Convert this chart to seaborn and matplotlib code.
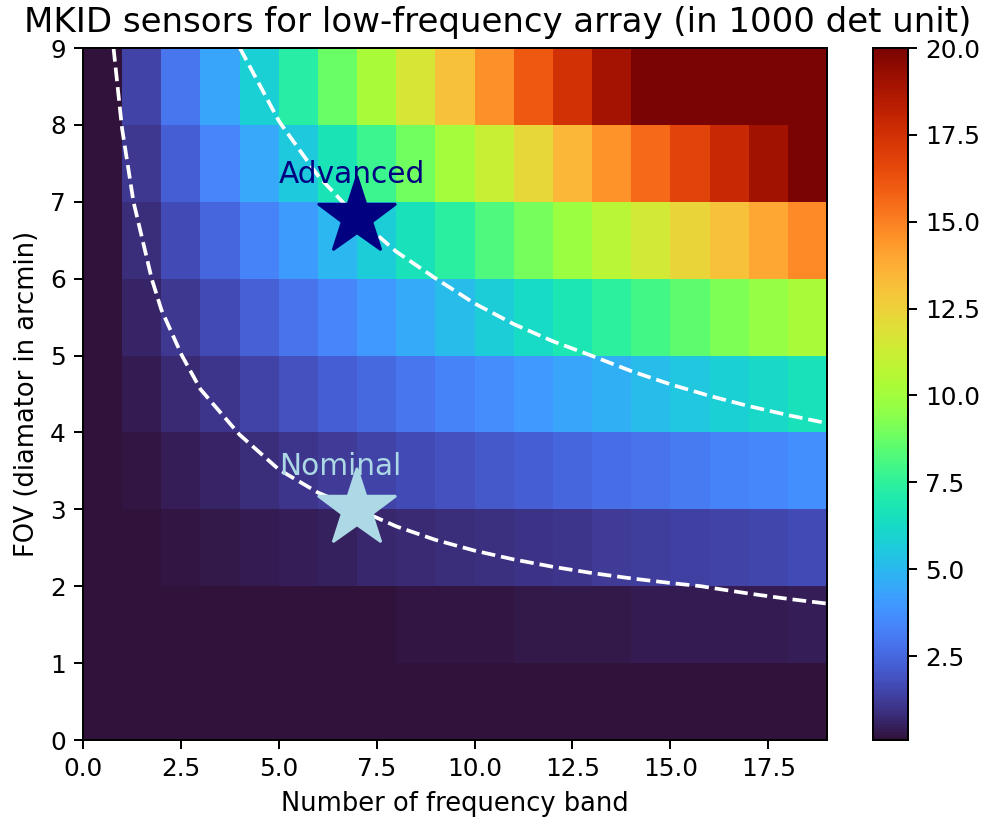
import numpy as np
import matplotlib
matplotlib.use("Agg")
import matplotlib.pyplot as plt
import matplotlib.ticker as mticker
import seaborn as sns

# grid nodes: number of frequency bands (x) and FOV in arcmin (y)
bands = [0, 1, 2, 3, 4, 5, 6, 7, 8, 9, 10, 11, 12, 13, 14, 15, 16, 17, 18, 19]
fovs = [0, 1, 2, 3, 4, 5, 6, 7, 8, 9]

# number of MKID detectors (in 1000 det) at each grid node, one list per FOV row
det_fov0 = [0.0] * 20
det_fov1 = [0.0, 0.023, 0.046, 0.068, 0.091, 0.114, 0.137, 0.160, 0.182, 0.205,
            0.228, 0.251, 0.274, 0.296, 0.319, 0.342, 0.365, 0.388, 0.410, 0.433]
det_fov2 = [0.0, 0.091, 0.182, 0.274, 0.365, 0.456, 0.547, 0.638, 0.730, 0.821,
            0.912, 1.003, 1.094, 1.186, 1.277, 1.368, 1.459, 1.550, 1.642, 1.733]
det_fov3 = [0.0, 0.205, 0.410, 0.616, 0.821, 1.026, 1.231, 1.436, 1.642, 1.847,
            2.052, 2.257, 2.462, 2.668, 2.873, 3.078, 3.283, 3.488, 3.694, 3.899]
det_fov4 = [0.0, 0.365, 0.730, 1.094, 1.459, 1.824, 2.189, 2.554, 2.918, 3.283,
            3.648, 4.013, 4.378, 4.742, 5.107, 5.472, 5.837, 6.202, 6.566, 6.931]
det_fov5 = [0.0, 0.57, 1.14, 1.71, 2.28, 2.85, 3.42, 3.99, 4.56, 5.13,
            5.70, 6.27, 6.84, 7.41, 7.98, 8.55, 9.12, 9.69, 10.26, 10.83]
det_fov6 = [0.0, 0.821, 1.642, 2.462, 3.283, 4.104, 4.925, 5.746, 6.566, 7.387,
            8.208, 9.029, 9.850, 10.670, 11.491, 12.312, 13.133, 13.954, 14.774, 15.595]
det_fov7 = [0.0, 1.117, 2.234, 3.352, 4.469, 5.586, 6.703, 7.820, 8.938, 10.055,
            11.172, 12.289, 13.406, 14.524, 15.641, 16.758, 17.875, 18.992, 20.110, 21.227]
det_fov8 = [0.0, 1.459, 2.918, 4.378, 5.837, 7.296, 8.755, 10.214, 11.674, 13.133,
            14.592, 16.051, 17.510, 18.970, 20.429, 21.888, 23.347, 24.806, 26.266, 27.725]
det_fov9 = [0.0, 1.847, 3.694, 5.540, 7.387, 9.234, 11.081, 12.928, 14.774, 16.621,
            18.468, 20.315, 22.162, 24.008, 25.855, 27.702, 29.549, 31.396, 33.242, 35.089]

# design points
designs = ["Nominal", "Advanced"]
design_band = [7, 7]
design_fov = [3.0, 6.8]
design_level = [1.44, 7.4]
design_color = ["lightblue", "navy"]

det = np.array([det_fov0, det_fov1, det_fov2, det_fov3, det_fov4,
                det_fov5, det_fov6, det_fov7, det_fov8, det_fov9])

fig = plt.figure(figsize=(987 / 178, 825 / 178), dpi=178)
ax = fig.add_axes([0.0841, 0.1030, 0.7538, 0.8388])
cax = fig.add_axes([0.8845, 0.1030, 0.0355, 0.8388])

sns.heatmap(det[:-1, :-1], cmap="turbo", vmin=0.084, vmax=20, ax=ax,
            cbar_ax=cax, xticklabels=False, yticklabels=False)

ax.set_xlim(0, 19)
ax.set_ylim(0, 9)
for s in ax.spines.values():
    s.set_visible(True)
    s.set_linewidth(0.8)
    s.set_color("black")
ax.xaxis.set_major_locator(mticker.AutoLocator())
ax.yaxis.set_major_locator(mticker.AutoLocator())
ax.xaxis.set_major_formatter(mticker.ScalarFormatter())
ax.yaxis.set_major_formatter(mticker.ScalarFormatter())
ax.tick_params(axis="both", which="major", length=3.5, width=0.8,
               labelsize=10, labelrotation=0, direction="out",
               bottom=True, left=True)

cbar = ax.collections[0].colorbar
cbar.outline.set_linewidth(0.8)
cbar.outline.set_edgecolor("black")
cbar.ax.tick_params(labelsize=10, length=3.5, width=0.8)

ax.contour(bands, fovs, det, levels=sorted(design_level), colors="white",
           linestyles="--", linewidths=1.5)

for name, b, f, c in zip(designs, design_band, design_fov, design_color):
    ax.plot(b, f, marker="*", markersize=33, color=c, linestyle="none")
    ax.text(b - 2, f + 0.45, name, color=c, fontsize=12)

ax.set_xlabel("Number of frequency band", fontsize=10.45)
ax.set_ylabel("FOV (diamator in arcmin)", fontsize=10.45)
fig.text(0.504, 0.993, "MKID sensors for low-frequency array (in 1000 det unit)",
         fontsize=13.75, ha="center", va="top")

fig.savefig("out.png", dpi=178)
